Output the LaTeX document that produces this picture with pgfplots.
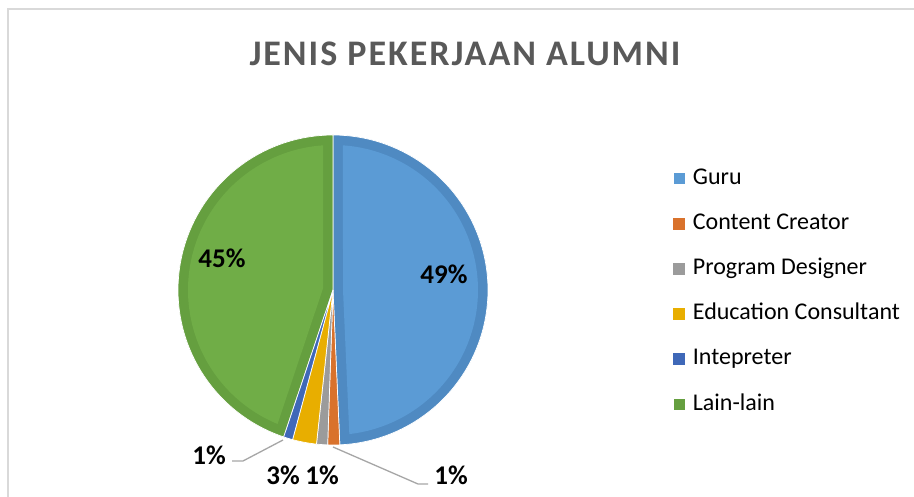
\documentclass[border=0pt]{standalone}
\usepackage{fontspec}
\setmainfont{Carlito}
\newfontfamily\titlefont[LetterSpace=5.5]{Carlito}
\usepackage{pgfplots}
\pgfplotsset{compat=1.18}
\definecolor{guruL}{HTML}{5B9BD5}
\definecolor{guruD}{HTML}{4F8AC2}
\definecolor{ccD}{HTML}{D9722C}
\definecolor{pdD}{HTML}{9B9B9B}
\definecolor{ecD}{HTML}{E8AE00}
\definecolor{inD}{HTML}{3F68B8}
\definecolor{llL}{HTML}{70AD47}
\definecolor{llD}{HTML}{659F3F}
\definecolor{titlec}{HTML}{595959}
\definecolor{framec}{HTML}{D9D9D9}
\definecolor{leadc}{HTML}{A6A6A6}
% Shares (percent): Guru 49.3, Content Creator 1.25, Program Designer 1.15,
% Education Consultant 2.5, Intepreter 0.95, Lain-lain 44.85
% slices start at 90 deg and run clockwise (3.6 deg per percent)
\begin{document}
\begin{tikzpicture}
\useasboundingbox (0,0) rectangle (914pt,497pt);
\clip (0,0) rectangle (914pt,497pt);
\fill[white] (0,0) rectangle (914pt,497pt);
\begin{axis}[
  at={(0pt,0pt)}, anchor=south west,
  scale only axis, width=914pt, height=497pt,
  xmin=0, xmax=914, ymin=0, ymax=497,
  hide axis, clip=false,
  legend cell align=left,
  legend style={at={(axis cs:673,330)}, anchor=north west, draw=none, fill=none,
    inner sep=0pt, row sep=23.2pt,
    font=\fontsize{24}{28}\selectfont,
    nodes={inner sep=0pt, text height=17pt, text depth=5pt},
    /tikz/every odd column/.style={column sep=8pt}},
]
% frame
\draw[framec, line width=1.6pt] (axis cs:8,-20) -- (axis cs:8,488) -- (axis cs:940,488);
% outer wedges (darker rim colour)
\addplot[fill=guruD, draw=white, line width=0.7pt, domain={90-3.6*49.3}:90, samples=120, variable=\t, forget plot]
  ({333+155*cos(\t)}, {207+155*sin(\t)}) -- (axis cs:333,207) -- cycle;
\addplot[fill=llD, draw=white, line width=0.7pt, domain=90:{90+3.6*44.85}, samples=120, variable=\t, forget plot]
  ({333+155*cos(\t)}, {207+155*sin(\t)}) -- (axis cs:333,207) -- cycle;
% inner fills of the two big slices
\addplot[fill=guruL, draw=none, domain=-83.53:86.05, samples=120, variable=\t,
  legend image code/.code={\fill[guruL] (0pt,-5.5pt) rectangle (11pt,5.5pt);}]
  ({333+145*cos(\t)}, {207+145*sin(\t)}) -- (axis cs:343.0,207.2) -- cycle;
\addlegendentry{Guru}
\addplot[fill=ccD, draw=white, line width=0.7pt, domain={-87.48-3.6*1.25}:-87.48, samples=10, variable=\t,
  legend image code/.code={\fill[ccD] (0pt,-5.5pt) rectangle (11pt,5.5pt);}]
  ({333+155*cos(\t)}, {207+155*sin(\t)}) -- (axis cs:333,207) -- cycle;
\addlegendentry{Content Creator}
\addplot[fill=pdD, draw=white, line width=0.7pt, domain={-91.98-3.6*1.15}:-91.98, samples=10, variable=\t,
  legend image code/.code={\fill[pdD] (0pt,-5.5pt) rectangle (11pt,5.5pt);}]
  ({333+155*cos(\t)}, {207+155*sin(\t)}) -- (axis cs:333,207) -- cycle;
\addlegendentry{Program Designer}
\addplot[fill=ecD, draw=white, line width=0.7pt, domain={-96.12-3.6*2.5}:-96.12, samples=12, variable=\t,
  legend image code/.code={\fill[ecD] (0pt,-5.5pt) rectangle (11pt,5.5pt);}]
  ({333+155*cos(\t)}, {207+155*sin(\t)}) -- (axis cs:333,207) -- cycle;
\addlegendentry{Education Consultant}
\addplot[fill=inD, draw=white, line width=0.7pt, domain={-105.12-3.6*0.95}:-105.12, samples=10, variable=\t,
  legend image code/.code={\fill[inD] (0pt,-5.5pt) rectangle (11pt,5.5pt);}]
  ({333+155*cos(\t)}, {207+155*sin(\t)}) -- (axis cs:333,207) -- cycle;
\addlegendentry{Intepreter}
\addplot[fill=llL, draw=none, domain=93.95:247.51, samples=120, variable=\t,
  legend image code/.code={\fill[llD] (0pt,-5.5pt) rectangle (11pt,5.5pt);}]
  ({333+145*cos(\t)}, {207+145*sin(\t)}) -- (axis cs:323.0,208.6) -- cycle;
\addlegendentry{Lain-lain}
% leader lines
\draw[leadc, line width=1.3pt] (axis cs:232,36) -- (axis cs:243,36) -- (axis cs:283,57);
\draw[leadc, line width=1.3pt] (axis cs:333,50) -- (axis cs:418,13) -- (axis cs:428,13);
% title
\node[font=\titlefont\fontsize{36}{40}\selectfont\bfseries, text=titlec] at (axis cs:465,443) {JENIS PEKERJAAN ALUMNI};
% data labels
\begin{scope}[every node/.style={font=\fontsize{27}{30}\selectfont\bfseries, text=black, inner sep=0pt}]
\node at (axis cs:444,223) {49\%};
\node at (axis cs:222,239) {45\%};
\node at (axis cs:209,42) {1\%};
\node at (axis cs:283,22) {3\%};
\node at (axis cs:322,22) {1\%};
\node at (axis cs:451,22) {1\%};
\end{scope}
\end{axis}
\end{tikzpicture}
\end{document}
